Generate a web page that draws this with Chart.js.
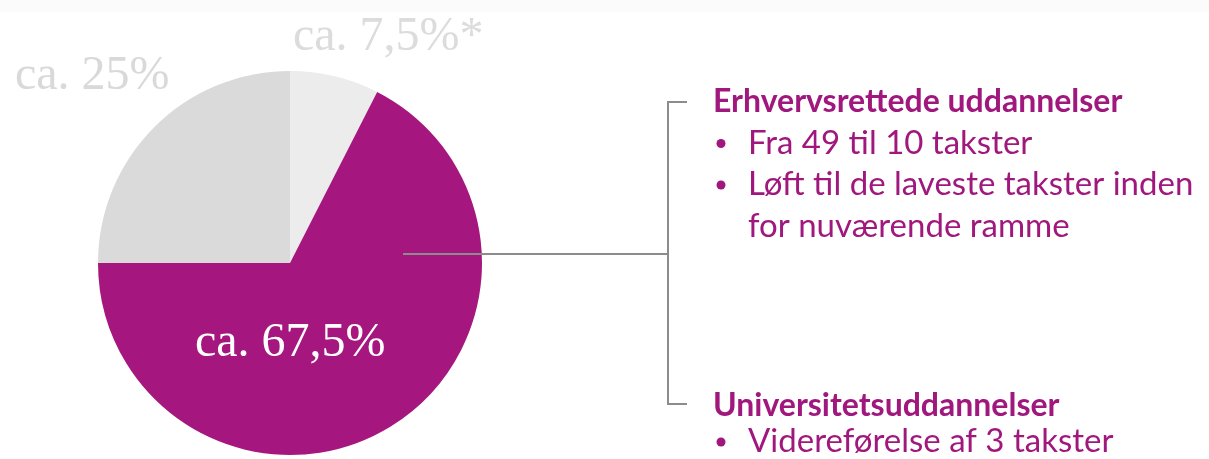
<!DOCTYPE html>
<html>
<head>
<meta charset="utf-8">
<script src="https://cdn.jsdelivr.net/npm/chart.js@4"></script>
<style>
  html, body { margin: 0; padding: 0; background: #ffffff; }
  #wrap { position: relative; width: 1209px; height: 459px; }
</style>
</head>
<body>
<div id="wrap"><canvas id="c" width="1209" height="459"></canvas></div>
<script>
// ---- data ----
const categories = ["Andet", "Erhvervsrettede uddannelser", "Universitetsuddannelser"];
const shares = [7.5, 67.5, 25];
const noteMarks = ["*", "", ""];
const sliceColors = ["#ececec", "#a5177f", "#dadada"];

const group1Title = "Erhvervsrettede uddannelser";
const group1Bullets = ["Fra 49 til 10 takster", "Løft til de laveste takster inden"];
const group1Continuation = "for nuværende ramme";
const group2Title = "Universitetsuddannelser";
const group2Bullets = ["Videreførelse af 3 takster"];

function pctLabel(v, mark) {
  return "ca. " + String(v).replace(".", ",") + "%" + (mark || "");
}

const annotate = {
  id: "annotate",
  beforeDraw(chart) {
    const ctx = chart.ctx;
    ctx.save();
    ctx.fillStyle = "#fbfbfb";
    ctx.fillRect(0, 0, chart.width, 12);
    ctx.restore();
  },
  afterDraw(chart) {
    const ctx = chart.ctx;
    const meta = chart.getDatasetMeta(0);
    const arc = meta.data[0];
    const cx = arc.x, cy = arc.y;
    ctx.save();

    // percentage labels
    ctx.font = "48px 'Liberation Serif'";
    ctx.textBaseline = "alphabetic";
    ctx.textAlign = "left";
    ctx.fillStyle = "#dcdcdc";
    ctx.fillText(pctLabel(shares[0], noteMarks[0]), cx + 3, cy - 213);
    ctx.fillStyle = "#d9d9d9";
    ctx.fillText(pctLabel(shares[2], noteMarks[2]), cx - 275, cy - 174);
    ctx.fillStyle = "#ffffff";
    ctx.fillText(pctLabel(shares[1], noteMarks[1]), cx - 95, cy + 93);

    // connector
    const lineY = cy - 9;
    const bx = 668;
    ctx.strokeStyle = "#8c8c8c";
    ctx.lineWidth = 2;
    ctx.beginPath();
    ctx.moveTo(cx + 113, lineY);
    ctx.lineTo(bx, lineY);
    ctx.stroke();
    ctx.beginPath();
    ctx.moveTo(bx + 19, 102);
    ctx.lineTo(bx, 102);
    ctx.lineTo(bx, 404);
    ctx.lineTo(bx + 19, 404);
    ctx.stroke();

    // right-hand text
    ctx.fillStyle = "#a0187d";
    const tx = 713, bulletX = 721, bx2 = 748;
    const lh = 41.5;
    const bullet = (y) => {
      ctx.beginPath();
      ctx.arc(bulletX, y - 10, 4.5, 0, Math.PI * 2);
      ctx.fill();
    };
    ctx.font = "bold 32px Lato";
    ctx.fillText(group1Title, tx, 112);
    ctx.font = "33px Lato";
    let y = 112 + lh;
    group1Bullets.forEach(b => { bullet(y); ctx.fillText(b, bx2, y); y += lh; });
    ctx.fillText(group1Continuation, bx2, y);

    ctx.font = "bold 32px Lato";
    ctx.fillText(group2Title, tx, 416);
    ctx.font = "33px Lato";
    y = 416 + 36;
    group2Bullets.forEach(b => { bullet(y); ctx.fillText(b, bx2, y); y += lh; });

    ctx.restore();
  }
};

new Chart(document.getElementById("c"), {
  type: "pie",
  data: {
    labels: categories,
    datasets: [{
      data: shares,
      backgroundColor: sliceColors,
      borderWidth: 0,
      hoverOffset: 0
    }]
  },
  options: {
    responsive: false,
    animation: false,
    rotation: 0,
    layout: { padding: { left: 98, right: 727, top: 71, bottom: 4 } },
    plugins: {
      legend: { display: false },
      tooltip: { enabled: false }
    },
    events: []
  },
  plugins: [annotate]
});
</script>
</body>
</html>
